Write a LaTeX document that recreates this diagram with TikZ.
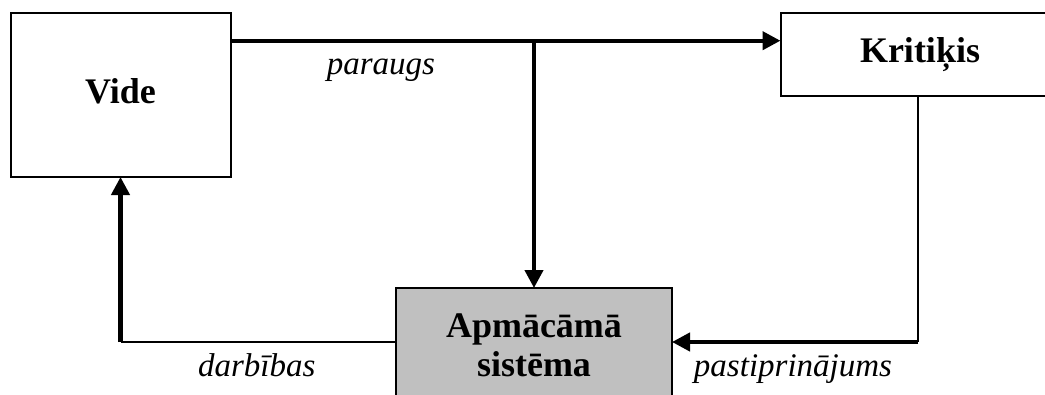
\documentclass[tikz,border=0pt]{standalone}
\usepackage{fontspec}
\setmainfont{Liberation Serif}
\usetikzlibrary{arrows.meta}
\definecolor{boxgray}{RGB}{192,192,192}
\begin{document}
\begin{tikzpicture}[x=1pt,y=-1pt,
  block/.style={draw, line width=2pt, inner sep=0pt, outer sep=0pt,
    font=\fontsize{36}{39}\selectfont\bfseries, align=center},
  flowlabel/.style={font=\fontsize{33}{36}\selectfont\itshape, anchor=base, inner sep=0pt},
  heavy/.style={line width=4.2pt},
  light/.style={line width=2.4pt},
  tip/.style={-{Triangle[length=18pt,width=18pt]}}
]
\useasboundingbox (0,0) rectangle (1045,394);

% boxes
\node[block, minimum width=220pt, minimum height=164pt, text depth=8pt]
  (vide) at (120.5,95) {Vide};
\node[block, minimum width=279pt, minimum height=83pt]
  (krit) at (920,54.5) {Kritiķis};
\node[block, fill=boxgray, minimum width=276pt, minimum height=114pt]
  (apm) at (534,345) {Apmācāmā\\sistēma};

% junctions and corners
\coordinate (j) at (534,40.7);
\coordinate (cr) at (918,342);
\coordinate (cl) at (120.5,342);

% sample flow from the environment
\draw[heavy, tip] (vide.east |- j) -- (krit.west |- j);
\draw[heavy, tip] (j) -- (apm.north);

% reinforcement from the critic
\draw[light] (krit.south -| cr) -- (cr);
\draw[heavy, tip] (cr) -- (apm.east |- cr);

% actions back to the environment
\draw[light] (apm.west |- cl) -- (cl);
\draw[heavy, tip] (cl) -- (vide.south);

% flow labels
\node[flowlabel] (lpar) at (381,74) {paraugs};
\node[flowlabel] (ldarb) at (256.7,376.7) {darbības};
\node[flowlabel] (lpast) at (793,376.7) {pastiprinājums};
\end{tikzpicture}
\end{document}
